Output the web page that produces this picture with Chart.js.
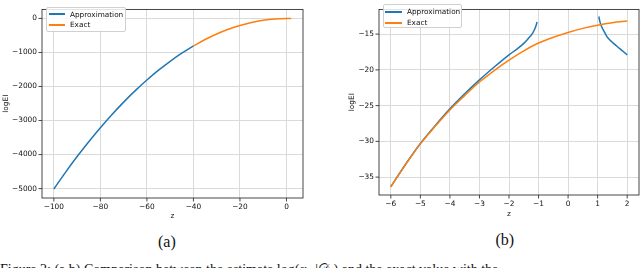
<!DOCTYPE html>
<html>
<head>
<meta charset="utf-8">
<script src="https://cdn.jsdelivr.net/npm/chart.js@4.4.1/dist/chart.umd.min.js"></script>
<style>
  html, body { margin:0; padding:0; background:#fff; }
  body { width:640px; height:268px; overflow:hidden; position:relative; font-family:"DejaVu Sans", sans-serif; }
  canvas { position:absolute; top:0; }
  #ca { left:0; }
  #cb { left:320px; }
  .legend { position:absolute; background:rgba(255,255,255,0.85); border:1px solid #d0d0d0; border-radius:2px; box-sizing:border-box; }
  .h { position:absolute; height:2px; }
  .t { position:absolute; font-size:7.3px; line-height:10px; color:#111; white-space:nowrap; }
  .cap { position:absolute; font-family:"Liberation Serif", "Times New Roman", serif; color:#111; white-space:nowrap; }
</style>
</head>
<body>
<canvas id="ca" width="310" height="225"></canvas>
<canvas id="cb" width="320" height="225"></canvas>

<div class="legend" style="left:46px; top:7px; width:80px; height:24.5px;">
  <div class="h" style="left:2px; width:16px; top:5px; background:#1f77b4;"></div><div class="t" style="left:23px; top:1.5px;">Approximation</div>
  <div class="h" style="left:2px; width:16px; top:16px; background:#ff7f0e;"></div><div class="t" style="left:23px; top:12px;">Exact</div>
</div>
<div class="legend" style="left:382.5px; top:4px; width:79.5px; height:23.5px;">
  <div class="h" style="left:1px; width:17px; top:6px; background:#1f77b4;"></div><div class="t" style="left:23.5px; top:2px;">Approximation</div>
  <div class="h" style="left:1px; width:17px; top:17px; background:#ff7f0e;"></div><div class="t" style="left:23.5px; top:13px;">Exact</div>
</div>

<div class="cap" style="left:158px; top:233px; font-size:16px;">(a)</div>
<div class="cap" style="left:495.5px; top:230.5px; font-size:16px;">(b)</div>
<div class="cap" style="left:0px; top:261.5px; font-size:14px;">Figure 2: (a,b) Comparison between the estimate log(α<sub style="font-size:9px">EI</sub>|𝒟<sub style="font-size:9px">n</sub>) and the exact value with the</div>

<script>
// ---- Panel (a) data ----
const zApproxA = [-100, -95, -90, -85, -80, -75, -70, -65, -60, -55, -50, -45, -40];
const approxA  = [-5010, -4522, -4059, -3622, -3210, -2822, -2459, -2122, -1809, -1521, -1259, -1021, -809];
const zExactA  = [-40, -35, -30, -25, -20, -15, -10, -5, 0, 2];
const exactA   = [-809, -620, -458, -320, -207, -119, -55, -17, -1, 0];
const xTicksA  = [-100, -80, -60, -40, -20, 0];
const yTicksA  = [0, -1000, -2000, -3000, -4000, -5000];

// ---- Panel (b) data ----
const zApproxLoB = [-6, -5.5, -5, -4.5, -4, -3.5, -3, -2.5, -2, -1.7, -1.5, -1.36, -1.2, -1.1, -1.05];
const approxLoB  = [-36.35, -33.2, -30.3, -27.8, -25.45, -23.35, -21.4, -19.6, -17.9, -17.0, -16.3, -15.67, -14.85, -14.0, -13.3];
const zApproxHiB = [1.04, 1.07, 1.1, 1.14, 1.18, 1.24, 1.3, 1.35, 1.42, 1.5, 1.6, 1.68, 1.8, 1.9, 2];
const approxHiB  = [-12.54, -13.15, -13.6, -14.0, -14.33, -14.8, -15.25, -15.55, -15.85, -16.15, -16.5, -16.8, -17.2, -17.55, -17.9];
const zExactB    = [-6, -5.5, -5, -4.5, -4, -3.5, -3, -2.5, -2, -1.5, -1, -0.5, 0, 0.5, 1, 1.5, 2];
const exactB     = [-36.35, -33.25, -30.35, -27.9, -25.6, -23.6, -21.7, -20.1, -18.65, -17.35, -16.25, -15.45, -14.78, -14.2, -13.75, -13.4, -13.17];
const xTicksB    = [-6, -5, -4, -3, -2, -1, 0, 1, 2];
const yTicksB    = [-15, -20, -25, -30, -35];

const BLUE = '#1f77b4', ORANGE = '#ff7f0e';
const FONT = { family: 'DejaVu Sans', size: 7.4 };
const fmt = v => (v < 0 ? '\u2212' + Math.abs(v) : String(v));
const pts = (xs, ys) => xs.map((x, i) => ({ x: x, y: ys[i] }));

const framePlugin = {
  id: 'frame',
  afterDraw(chart) {
    const { ctx, chartArea: a, scales } = chart;
    ctx.save();
    ctx.strokeStyle = '#333';
    ctx.lineWidth = 0.9;
    ctx.strokeRect(a.left, a.top, a.right - a.left, a.bottom - a.top);
    ctx.beginPath();
    scales.x.ticks.forEach(t => {
      const px = scales.x.getPixelForValue(t.value);
      ctx.moveTo(px, a.bottom); ctx.lineTo(px, a.bottom + 3.5);
    });
    scales.y.ticks.forEach(t => {
      const py = scales.y.getPixelForValue(t.value);
      ctx.moveTo(a.left, py); ctx.lineTo(a.left - 3.5, py);
    });
    ctx.stroke();
    ctx.restore();
  }
};

function makeChart(id, datasets, xr, yr, xTicks, yTicks, yW, xH, padRight, yTitlePad, xTitlePad) {
  return new Chart(document.getElementById(id), {
    type: 'line',
    data: { datasets: datasets },
    options: {
      responsive: false, animation: false, devicePixelRatio: 1,
      layout: { padding: { top: 3, right: padRight, left: 0, bottom: 0 } },
      plugins: { legend: { display: false }, tooltip: { enabled: false } },
      elements: { point: { radius: 0 }, line: { borderWidth: 1.5, cubicInterpolationMode: 'monotone' } },
      scales: {
        x: {
          type: 'linear', min: xr[0], max: xr[1],
          afterBuildTicks: s => { s.ticks = xTicks.map(v => ({ value: v })); },
          afterFit: s => { s.height = xH; },
          ticks: { font: FONT, color: '#111', padding: 4.5, maxRotation: 0, autoSkip: false, callback: v => fmt(v) },
          grid: { color: '#dadada', lineWidth: 1, drawTicks: false },
          border: { display: false },
          title: { display: true, text: 'z', font: FONT, color: '#111', padding: { top: 0, bottom: xTitlePad } }
        },
        y: {
          type: 'linear', min: yr[0], max: yr[1],
          afterBuildTicks: s => { s.ticks = yTicks.map(v => ({ value: v })); },
          afterFit: s => { s.width = yW; },
          ticks: { font: FONT, color: '#111', padding: 5, autoSkip: false, callback: v => fmt(v) },
          grid: { color: '#dadada', lineWidth: 1, drawTicks: false },
          border: { display: false },
          title: { display: true, text: 'logEI', font: FONT, color: '#111', padding: { top: yTitlePad, bottom: 0 } }
        }
      }
    },
    plugins: [framePlugin]
  });
}

makeChart('ca', [
  { label: 'Exact', data: pts(zExactA, exactA), borderColor: ORANGE, fill: false },
  { label: 'Approximation', data: pts(zApproxA, approxA), borderColor: BLUE, fill: false }
], [-105.1, 7.1], [-5276, 264], xTicksA, yTicksA, 42, 27, 7, 1.5, 4.5);

makeChart('cb', [
  { label: 'Exact', data: pts(zExactB, exactB), borderColor: ORANGE, fill: false },
  { label: 'Approximation', data: pts(zApproxLoB, approxLoB).concat([{ x: 0, y: null }], pts(zApproxHiB, approxHiB)),
    borderColor: BLUE, fill: false, spanGaps: false }
], [-6.4, 2.4], [-37.5, -11.55], xTicksB, yTicksB, 59, 30, 1, 27.5, 6.5);
</script>
</body>
</html>
